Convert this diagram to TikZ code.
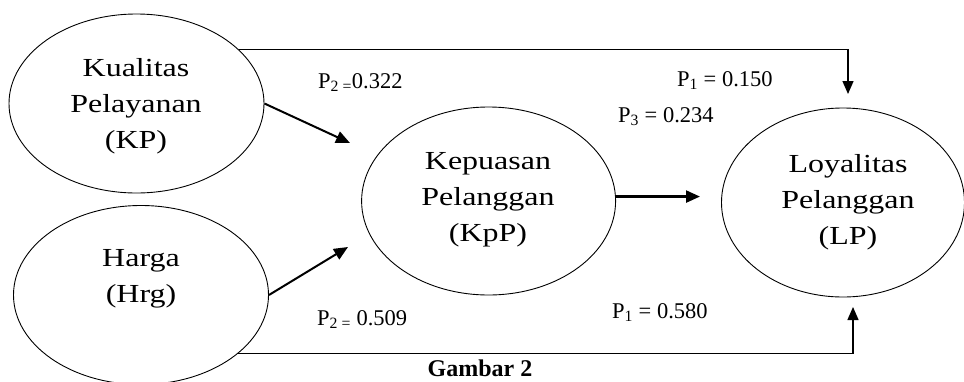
\documentclass[tikz,border=0pt]{standalone}
\usepackage{fontspec}
\setmainfont{Liberation Serif}
\usetikzlibrary{shapes.geometric,arrows.meta}
\begin{document}
\begin{tikzpicture}[x=1pt,y=-1pt,
  oval/.style={ellipse,draw,line width=0.9pt,inner sep=0pt},
  big/.style={align=center,font=\fontsize{26}{36}\selectfont,inner sep=0pt},
  coef/.style={anchor=base west,font=\fontsize{22.5}{25}\selectfont,inner sep=0pt},
  flow/.style={line width=1.4pt,-{Triangle[length=13pt,width=11pt]}},
  path/.style={line width=2pt,-{Triangle[length=14pt,width=12pt]}}]
\useasboundingbox (0,0) rectangle (964,381);
\newcommand{\wide}[1]{\scalebox{1.23}[1]{#1}}
% ellipses
\node[oval,minimum width=255pt,minimum height=179pt] (kp) at (136.5,103.5) {};
\node[oval,minimum width=255pt,minimum height=179pt] (hrg) at (141,295) {};
\node[oval,minimum width=254pt,minimum height=188pt] (kpp) at (488.6,201) {};
\node[oval,minimum width=243pt,minimum height=189pt] (lp) at (843,202.5) {};
% texts
\node[big] (kpt) at (136,106) {\wide{Kualitas}\\\wide{Pelayanan}\\\wide{(KP)}};
\node[big] (hrgt) at (141,279) {\wide{Harga}\\\wide{(Hrg)}};
\node[big] (kppt) at (488,200) {\wide{Kepuasan}\\\wide{Pelanggan}\\\wide{(KpP)}};
\node[big] (lpt) at (848,202) {\wide{Loyalitas}\\\wide{Pelanggan}\\\wide{(LP)}};
% coefficient labels
\node[coef] (c1) at (318,88) {P\textsubscript{2 =}0.322};
\node[coef] (c2) at (677,86) {P\textsubscript{1} = 0.150};
\node[coef] (c3) at (618,122) {P\textsubscript{3} = 0.234};
\node[coef] (c4) at (317,325) {P\textsubscript{2 =} 0.509};
\node[coef] (c5) at (612,318) {P\textsubscript{1} = 0.580};
\node[anchor=base,font=\fontsize{24}{27}\selectfont\bfseries,inner sep=0pt] (cap) at (480,376) {Gambar 2};
% free ends
\coordinate (e1) at (350,143);
\coordinate (e2) at (348,247);
\coordinate (e3) at (700,196);
\coordinate (t1) at (848,94);
\coordinate (b1) at (853,307);
% connectors
\draw[flow] (kp.28.4) -| (t1);
\draw[flow] (hrg.-31.6) -| (b1);
\draw[path] (kp.east) -- (e1);
\draw[path] (hrg.east) -- (e2);
\draw[path,line width=2.4pt] (kpp.2.5) -- (kpp.2.5 -| e3);
\end{tikzpicture}
\end{document}
